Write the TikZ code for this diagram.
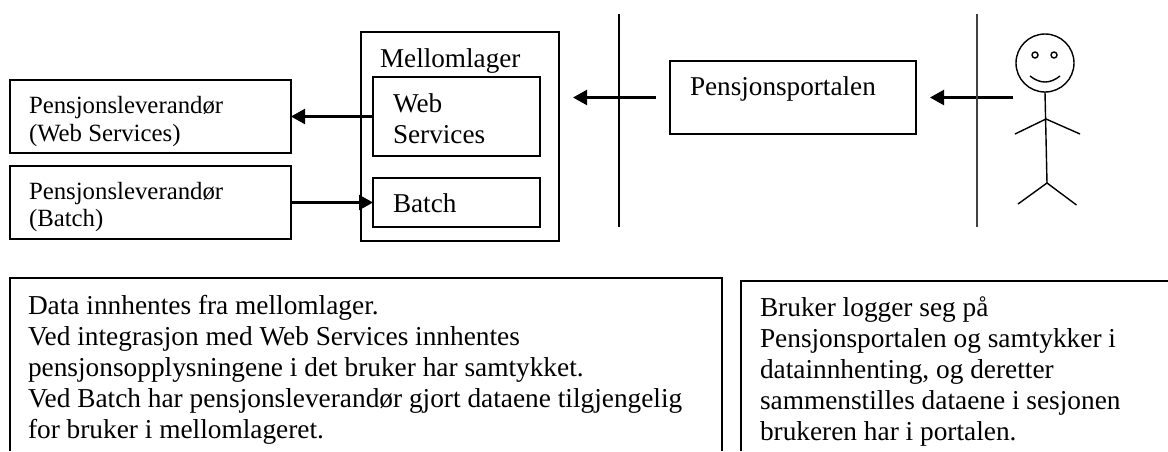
\documentclass[tikz,border=0pt]{standalone}
\usepackage{fontspec}
\setmainfont{Liberation Serif}
\usetikzlibrary{arrows.meta}
\def\px{0.75pt}
\tikzset{
  box/.style={draw=black,line width=1.7*\px,fill=none,inner sep=0pt,outer sep=0pt},
  lbl/.style={anchor=base west,inner sep=0pt,outer sep=0pt,font=\fontsize{18.6pt}{22pt}\selectfont},
  lblbig/.style={anchor=base west,inner sep=0pt,outer sep=0pt,font=\fontsize{20.4pt}{24pt}\selectfont},
  note/.style={anchor=base west,inner sep=0pt,outer sep=0pt,font=\fontsize{20.5pt}{24pt}\selectfont},
  conn/.style={line width=2.2*\px,-{Triangle[length=14*\px,width=15*\px]}},
  rule/.style={draw=black,line width=1.6*\px},
  figure/.style={draw=black,line width=1.4*\px}
}
\begin{document}
\begin{tikzpicture}[x=0.75pt,y=-0.75pt]
\useasboundingbox (0,0) rectangle (1168,451);
% boxes
\node[box,minimum width=281*\px,minimum height=73*\px] (pws) at (150.5,116.5) {};
\node[box,minimum width=281*\px,minimum height=73*\px] (pbatch) at (150.5,202.5) {};
\node[box,minimum width=198*\px,minimum height=209*\px] (mello) at (460,136.5) {};
\node[box,minimum width=167*\px,minimum height=79*\px] (web) at (456.5,116.5) {};
\node[box,minimum width=167*\px,minimum height=49*\px] (batch) at (456.5,202.5) {};
\node[box,minimum width=246*\px,minimum height=73*\px] (portal) at (793,97.5) {};
% labels
\node[lbl] (t1) at (29,113) {Pensjonsleverandør};
\node[lbl] (t2) at (29,141) {(Web Services)};
\node[lbl] (t3) at (29,199) {Pensjonsleverandør};
\node[lbl] (t4) at (29,226) {(Batch)};
\node[lblbig] (t5) at (380,67) {Mellomlager};
\node[lblbig] (t6) at (393,112) {Web};
\node[lblbig] (t7) at (393,143) {Services};
\node[lblbig] (t8) at (393,212) {Batch};
\node[lblbig] (t9) at (690,95) {Pensjonsportalen};
% connectors
\draw[conn] (web.west) -- (pws.east);
\draw[conn] (pbatch.east) -- (batch.west);
\coordinate (a1s) at (656,97.5);
\coordinate (a1e) at (573,97.5);
\draw[conn] (a1s) -- (a1e);
\coordinate (a2s) at (1013,97.5);
\coordinate (a2e) at (930,97.5);
\draw[conn] (a2s) -- (a2e);
% vertical rules
\draw[rule] (619,14) -- (619,227);
\draw[rule,draw=black!75] (977,14) -- (977,227);
% stick figure
\draw[figure] (1045,63) ellipse [x radius=29,y radius=29];
\draw[figure] (1035,55) circle [radius=3];
\draw[figure] (1054,55) circle [radius=3];
\draw[figure] (1030,76) .. controls (1040,84) and (1050,84) .. (1060,76);
\draw[figure] (1045,92) -- (1047,183);
\draw[figure] (1015,134) -- (1046,119) -- (1080,134);
\draw[figure] (1018,204) -- (1047,183) -- (1076.5,205);
% note boxes
\draw[box] (10,451) -- (10,278) -- (722,278) -- (722,451);
\draw[box] (741,451) -- (741,281) -- (1168,281);
\node[note] (n1) at (28,314) {Data innhentes fra mellomlager.};
\node[note] (n2) at (28,345) {Ved integrasjon med Web Services innhentes};
\node[note] (n3) at (28,376) {pensjonsopplysningene i det bruker har samtykket.};
\node[note] (n4) at (28,407) {Ved Batch har pensjonsleverandør gjort dataene tilgjengelig};
\node[note] (n5) at (28,438) {for bruker i mellomlageret.};
\node[note] (m1) at (760,316) {Bruker logger seg på};
\node[note] (m2) at (760,347) {Pensjonsportalen og samtykker i};
\node[note] (m3) at (760,378) {datainnhenting, og deretter};
\node[note] (m4) at (760,409) {sammenstilles dataene i sesjonen};
\node[note] (m5) at (760,440) {brukeren har i portalen.};
\end{tikzpicture}
\end{document}
